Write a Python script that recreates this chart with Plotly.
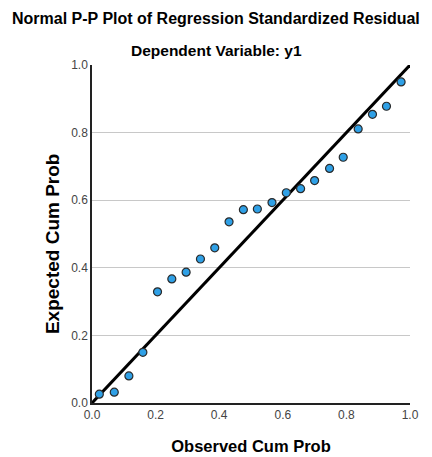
import plotly.graph_objects as go

observed = [0.023, 0.070, 0.116, 0.160, 0.206, 0.251, 0.296, 0.341, 0.386, 0.431,
            0.476, 0.520, 0.566, 0.611, 0.656, 0.700, 0.747, 0.790, 0.837, 0.882,
            0.926, 0.972]
expected = [0.026, 0.032, 0.080, 0.150, 0.329, 0.367, 0.387, 0.426, 0.459, 0.536,
            0.572, 0.574, 0.593, 0.622, 0.634, 0.658, 0.694, 0.727, 0.811, 0.854,
            0.878, 0.950]
ref_line = [0.0, 1.0]
tick_vals = [0.0, 0.2, 0.4, 0.6, 0.8, 1.0]
tick_text = ["0.0", "0.2", "0.4", "0.6", "0.8", "1.0"]

fig = go.Figure()
fig.add_trace(go.Scatter(x=ref_line, y=ref_line, mode="lines",
                         line=dict(color="black", width=3), hoverinfo="skip",
                         cliponaxis=False))
fig.add_trace(go.Scatter(x=observed, y=expected, mode="markers",
                         marker=dict(size=8, color="#2FA0E6",
                                     line=dict(color="#2a2a2a", width=1.2)),
                         cliponaxis=False))

font = "Arial, Liberation Sans, sans-serif"
fig.update_layout(
    width=432, height=457,
    margin=dict(l=84, r=30, t=57, b=62, autoexpand=False),
    paper_bgcolor="white", plot_bgcolor="white",
    showlegend=False,
    font=dict(family=font, color="#000000"),
    annotations=[
        dict(text="<b>Normal P-P Plot of Regression Standardized Residual</b>",
             xref="paper", yref="paper", x=0.39, y=1.0, yshift=47,
             xanchor="center", yanchor="middle", showarrow=False,
             font=dict(size=16, family=font, color="#000")),
        dict(text="<b>Dependent Variable: y1</b>",
             xref="paper", yref="paper", x=0.39, y=1.0, yshift=15,
             xanchor="center", yanchor="middle", showarrow=False,
             font=dict(size=15.5, family=font, color="#000")),
        dict(text="<b>Expected Cum Prob</b>", textangle=-90,
             xref="paper", yref="paper", x=-0.126, y=0.473,
             xanchor="center", yanchor="middle", showarrow=False,
             font=dict(size=19, family=font, color="#000")),
    ],
)
fig.update_xaxes(range=[0, 1], tickvals=tick_vals, ticktext=tick_text,
                 automargin=False,
                 showgrid=False, zeroline=False, showline=True,
                 linecolor="#222", linewidth=1.5, ticks="",
                 tickfont=dict(size=12, color="#444", family=font),
                 title=dict(text="<b>Observed Cum Prob</b>", standoff=19,
                            font=dict(size=16.5, family=font, color="#000")))
fig.update_yaxes(range=[0, 1], tickvals=tick_vals, ticktext=tick_text,
                 automargin=False,
                 showgrid=True, gridcolor="#c8c8c8", gridwidth=1.2,
                 zeroline=False, showline=True,
                 linecolor="#222", linewidth=1.5, ticks="",
                 tickfont=dict(size=12, color="#444", family=font))

fig.write_html("out.html")
